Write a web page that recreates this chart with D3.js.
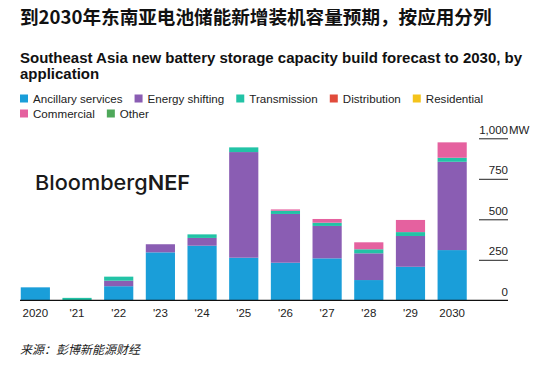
<!DOCTYPE html>
<html><head><meta charset="utf-8">
<script src="https://cdn.jsdelivr.net/npm/d3@7"></script>
<style>
body{margin:0;background:#fff;}
svg{display:block;}
</style></head>
<body>
<svg id="c" width="549" height="366"></svg>
<script>
const years = ["2020","'21","'22","'23","'24","'25","'26","'27","'28","'29","2030"];
const seriesNames = ["Ancillary services","Energy shifting","Transmission","Distribution","Residential","Commercial","Other"];
const colors = ["#1a9ed9","#8a5db3","#22c3a6","#e14b3b","#f4c31b","#e5619f","#4ea85a"];
const ancillary    = [80, 0, 87, 296, 337, 263, 232, 259, 125, 207, 310];
const energyShift  = [0, 0, 34, 50, 48, 652, 301, 200, 165, 190, 545];
const transmission = [0, 15, 25, 0, 22, 29, 20, 20, 25, 24, 25];
const distribution = [0,0,0,0,0,0,0,0,0,0,0];
const residential  = [0,0,0,0,0,0,0,0,0,0,0];
const commercial   = [0,0,0,0,0,0,8,23,43,75,95];
const other        = [0,0,0,0,0,0,0,0,0,0,0];
const yTicks = [0,250,500,750,1000];
const yTickLabels = ["0","250","500","750","1,000"];

const allSeries = [ancillary,energyShift,transmission,distribution,residential,commercial,other];
const table = years.map((y,i)=>{const o={year:y}; seriesNames.forEach((s,j)=>o[s]=allSeries[j][i]); return o;});

const svg = d3.select("#c");
const sans = "'Liberation Sans', Arial, sans-serif";

svg.append("text").attr("x",20).attr("y",24)
  .attr("font-family","'Noto Sans CJK SC', sans-serif").attr("font-weight",700)
  .attr("font-size",18.6).attr("fill","#111").text("到2030年东南亚电池储能新增装机容量预期，按应用分列");

const sub = svg.append("text").attr("font-family",sans).attr("font-weight",700).attr("font-size",15).attr("fill","#111");
sub.append("tspan").attr("x",20).attr("y",63).text("Southeast Asia new battery storage capacity build forecast to 2030, by");
sub.append("tspan").attr("x",20).attr("y",79).text("application");

// legend
const legendRows = [[0,1,2,3,4],[5,6]];
const legendY = [99,114];
legendRows.forEach((row,ri)=>{
  let x = 20;
  row.forEach(si=>{
    const g = svg.append("g");
    g.append("rect").attr("x",x).attr("y",legendY[ri]-4.5).attr("width",8).attr("height",8).attr("fill",colors[si]);
    const t = g.append("text").attr("x",x+13).attr("y",legendY[ri]+4).attr("font-family",sans)
      .attr("font-size",11.6).attr("fill","#222").text(seriesNames[si]);
    x += 13 + t.node().getComputedTextLength() + 12;
  });
});

const x = d3.scaleBand().domain(years).range([14.5,473]).paddingInner(0.3).paddingOuter(0.15);
const y = d3.scaleLinear().domain([0,1000]).range([300.3,138.3]);

// watermark
const logo = svg.append("text").attr("x",35).attr("y",190).attr("font-family","Inter, sans-serif")
  .attr("font-size",20.5).attr("fill","#1a1a1a").attr("textLength",155).attr("lengthAdjust","spacingAndGlyphs");
logo.append("tspan").attr("font-weight",500).text("Bloomberg");
logo.append("tspan").attr("font-weight",600).text("NEF");

const stack = d3.stack().keys(seriesNames)(table);
svg.append("g").selectAll("g").data(stack).join("g").attr("fill",(d,i)=>colors[i])
  .selectAll("rect").data(d=>d).join("rect")
  .attr("x",d=>x(d.data.year)).attr("width",x.bandwidth())
  .attr("y",d=>y(d[1])).attr("height",d=>Math.max(0,y(d[0])-y(d[1])));

// y axis on right
const yAxis = d3.axisLeft(y).tickValues(yTicks).tickSize(29).tickFormat((d,i)=>yTickLabels[i]);
const ya = svg.append("g").attr("transform","translate(508,0)").call(yAxis);
ya.select(".domain").remove();
ya.selectAll(".tick line").attr("stroke","#222").attr("stroke-width",1).filter(d=>d===0).remove();
ya.selectAll(".tick text").attr("x",0).attr("dy",-5).attr("text-anchor","end")
  .attr("font-family",sans).attr("font-size",11.5).attr("fill","#222");
ya.selectAll(".tick").filter(d=>d===1000).append("text").attr("x",1).attr("dy",-5)
  .attr("text-anchor","start").attr("dominant-baseline","auto")
  .attr("font-family",sans).attr("font-size",11.5).attr("fill","#222").text("MW");
ya.selectAll(".tick text").attr("y",0).attr("dy","-0.45em");

// baseline
svg.append("line").attr("x1",20).attr("x2",508).attr("y1",y(0)).attr("y2",y(0)).attr("stroke","#111").attr("stroke-width",1.2);

// x axis labels
const xAxis = d3.axisBottom(x).tickSize(0).tickPadding(9);
const xa = svg.append("g").attr("transform",`translate(0,${y(0)})`).call(xAxis);
xa.select(".domain").remove();
xa.selectAll("text").attr("font-family",sans).attr("font-size",11.5).attr("fill","#222");

svg.append("text").attr("x",20).attr("y",354).attr("font-family","'Noto Sans CJK SC', sans-serif")
  .attr("font-style","italic").attr("font-size",12).attr("fill","#222")
  .text("来源：彭博新能源财经");
</script>
</body></html>
